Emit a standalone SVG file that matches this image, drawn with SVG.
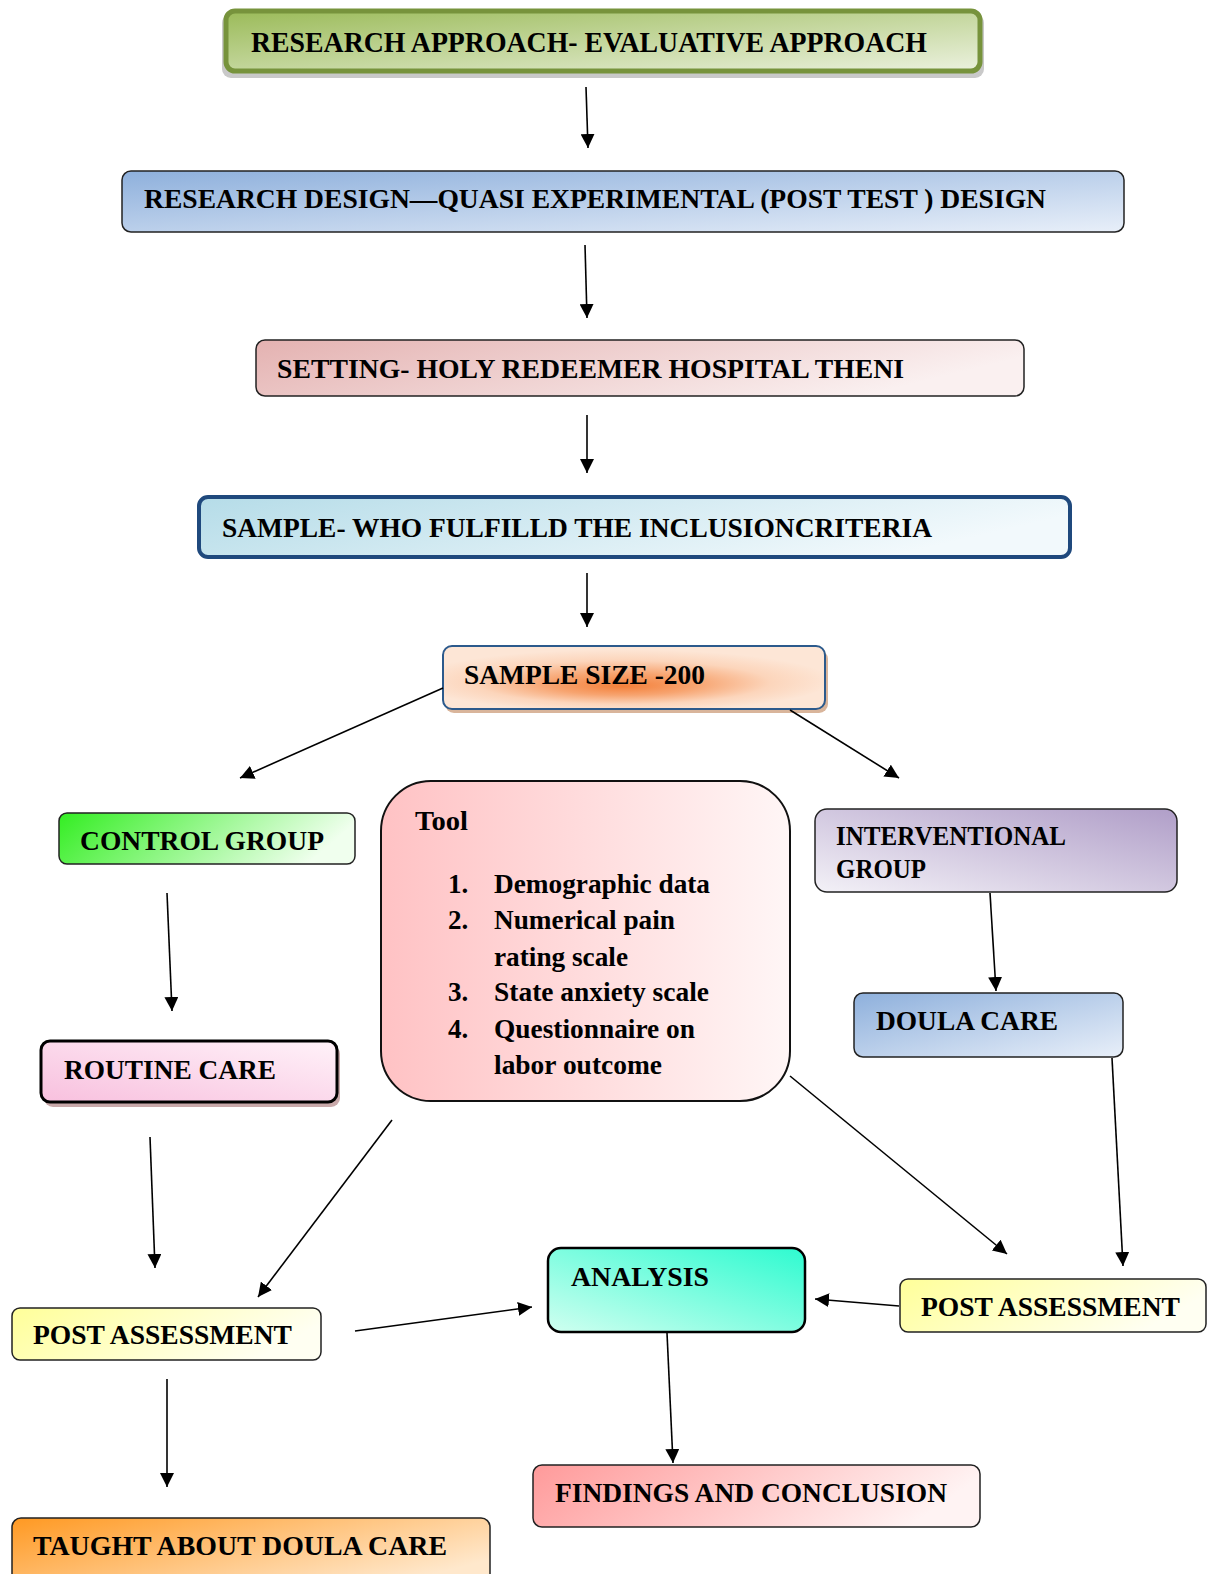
<svg xmlns="http://www.w3.org/2000/svg" width="1217" height="1574" viewBox="0 0 1217 1574">
<defs>
<linearGradient id="gGreen" x1="0" y1="0" x2="1" y2="1"><stop offset="0" stop-color="#9BBB59"/><stop offset="1" stop-color="#EBF1DE"/></linearGradient>
<linearGradient id="gBlue" x1="0" y1="0" x2="1" y2="1"><stop offset="0" stop-color="#8EB0DC"/><stop offset="1" stop-color="#E8EFF9"/></linearGradient>
<linearGradient id="gRose" x1="0" y1="0" x2="1" y2="0.3"><stop offset="0" stop-color="#E4B2B1"/><stop offset="1" stop-color="#FAF0F0"/></linearGradient>
<linearGradient id="gAqua" x1="0" y1="0" x2="1" y2="0.3"><stop offset="0" stop-color="#B5DCE8"/><stop offset="1" stop-color="#F2F9FC"/></linearGradient>
<radialGradient id="gOrange" cx="0.47" cy="0.55" r="0.55" fx="0.47" fy="0.65" gradientTransform="translate(0.47 0.55) scale(1 0.9) translate(-0.47 -0.55)"><stop offset="0" stop-color="#F4803A"/><stop offset="0.35" stop-color="#F7A470"/><stop offset="0.7" stop-color="#FCD5BB"/><stop offset="1" stop-color="#FDE6D6"/></radialGradient>
<linearGradient id="gLime" x1="0" y1="0" x2="1" y2="0.2"><stop offset="0" stop-color="#33EE22"/><stop offset="1" stop-color="#F0FFEE"/></linearGradient>
<linearGradient id="gPink" x1="0" y1="0" x2="1" y2="0"><stop offset="0" stop-color="#FFC2C4"/><stop offset="1" stop-color="#FFF6F6"/></linearGradient>
<linearGradient id="gLav" x1="1" y1="0" x2="0" y2="1"><stop offset="0" stop-color="#B09EC8"/><stop offset="1" stop-color="#F3F1F7"/></linearGradient>
<linearGradient id="gRoutine" x1="0" y1="1" x2="1" y2="0"><stop offset="0" stop-color="#F8C0DE"/><stop offset="1" stop-color="#FFF2F9"/></linearGradient>
<linearGradient id="gYellow" x1="0" y1="0" x2="1" y2="0.3"><stop offset="0" stop-color="#FFFF99"/><stop offset="1" stop-color="#FFFFF2"/></linearGradient>
<linearGradient id="gTeal" x1="1" y1="0" x2="0" y2="1"><stop offset="0" stop-color="#2EFBD0"/><stop offset="1" stop-color="#D0FFF0"/></linearGradient>
<linearGradient id="gSalmon" x1="0" y1="0" x2="1" y2="0.2"><stop offset="0" stop-color="#FF9A9A"/><stop offset="1" stop-color="#FFF3F3"/></linearGradient>
<linearGradient id="gTaught" x1="0" y1="0" x2="1" y2="0.6"><stop offset="0" stop-color="#FF9922"/><stop offset="1" stop-color="#FFE8CC"/></linearGradient>
<marker id="arr" viewBox="0 0 10 10" refX="10" refY="5" markerWidth="14" markerHeight="14" markerUnits="userSpaceOnUse" orient="auto"><path d="M0,0 L10,5 L0,10 z" fill="#000"/></marker>
</defs>
<style>
text{font-family:"Liberation Serif","Times New Roman",serif;font-weight:bold;font-size:27px;fill:#000}
.b{stroke:#222;stroke-width:1.5}
.c line{stroke:#000;stroke-width:1.6;marker-end:url(#arr)}
</style>
<rect width="1217" height="1574" fill="#fff"/>

<g id="n1">
<rect x="222" y="14" width="762" height="64" rx="9" fill="#C9C9C9"/>
<rect x="226" y="11" width="754" height="60" rx="9" fill="url(#gGreen)" stroke="#77933C" stroke-width="5"/>
<text x="251" y="52" style="font-size:30px" textLength="676" lengthAdjust="spacingAndGlyphs">RESEARCH APPROACH- EVALUATIVE APPROACH</text>
</g>
<g id="n2">
<rect x="122" y="171" width="1002" height="61" rx="9" fill="url(#gBlue)" class="b"/>
<text x="144" y="208" textLength="902" lengthAdjust="spacingAndGlyphs">RESEARCH DESIGN—QUASI EXPERIMENTAL (POST TEST ) DESIGN</text>
</g>
<g id="n3">
<rect x="256" y="340" width="768" height="56" rx="9" fill="url(#gRose)" class="b"/>
<text x="277" y="378" textLength="627" lengthAdjust="spacingAndGlyphs">SETTING- HOLY REDEEMER HOSPITAL THENI</text>
</g>
<g id="n4">
<rect x="199" y="497" width="871" height="60" rx="9" fill="url(#gAqua)" stroke="#1F497D" stroke-width="4"/>
<text x="222" y="537" textLength="710" lengthAdjust="spacingAndGlyphs">SAMPLE- WHO FULFILLD THE INCLUSIONCRITERIA</text>
</g>
<g id="n5">
<rect x="445" y="650" width="383" height="63" rx="9" fill="#D9B59B"/>
<rect x="443" y="646" width="382" height="63" rx="9" fill="url(#gOrange)" stroke="#2C5A8C" stroke-width="2"/>
<text x="464" y="684" textLength="241" lengthAdjust="spacingAndGlyphs">SAMPLE SIZE -200</text>
</g>
<g id="n6">
<rect x="59" y="813" width="296" height="51" rx="8" fill="url(#gLime)" class="b"/>
<text x="80" y="850" textLength="244" lengthAdjust="spacingAndGlyphs">CONTROL GROUP</text>
</g>
<g id="n7">
<rect x="381" y="781" width="409" height="320" rx="50" fill="url(#gPink)" stroke="#111" stroke-width="2"/>
<text x="415" y="830" textLength="53" lengthAdjust="spacingAndGlyphs">Tool</text>
<text x="448" y="893">1.</text><text x="494" y="893" textLength="216" lengthAdjust="spacingAndGlyphs">Demographic data</text>
<text x="448" y="929">2.</text><text x="494" y="929" textLength="181" lengthAdjust="spacingAndGlyphs">Numerical pain</text>
<text x="494" y="966" textLength="134" lengthAdjust="spacingAndGlyphs">rating scale</text>
<text x="448" y="1001">3.</text><text x="494" y="1001" textLength="215" lengthAdjust="spacingAndGlyphs">State anxiety scale</text>
<text x="448" y="1038">4.</text><text x="494" y="1038" textLength="201" lengthAdjust="spacingAndGlyphs">Questionnaire on</text>
<text x="494" y="1074" textLength="168" lengthAdjust="spacingAndGlyphs">labor outcome</text>
</g>
<g id="n8">
<rect x="815" y="809" width="362" height="83" rx="12" fill="url(#gLav)" class="b"/>
<text x="836" y="845" textLength="230" lengthAdjust="spacingAndGlyphs">INTERVENTIONAL</text>
<text x="836" y="878" textLength="90" lengthAdjust="spacingAndGlyphs">GROUP</text>
</g>
<g id="n9">
<rect x="854" y="993" width="269" height="64" rx="9" fill="url(#gBlue)" class="b"/>
<text x="876" y="1030" textLength="182" lengthAdjust="spacingAndGlyphs">DOULA CARE</text>
</g>
<g id="n10">
<rect x="44" y="1045" width="296" height="62" rx="9" fill="#C9A9AA"/>
<rect x="41" y="1041" width="296" height="61" rx="9" fill="url(#gRoutine)" stroke="#000" stroke-width="3"/>
<text x="64" y="1079" textLength="212" lengthAdjust="spacingAndGlyphs">ROUTINE CARE</text>
</g>
<g id="n11">
<rect x="12" y="1308" width="309" height="52" rx="8" fill="url(#gYellow)" class="b"/>
<text x="33" y="1344" textLength="259" lengthAdjust="spacingAndGlyphs">POST ASSESSMENT</text>
</g>
<g id="n12">
<rect x="548" y="1248" width="257" height="84" rx="13" fill="url(#gTeal)" stroke="#000" stroke-width="2.5"/>
<text x="571" y="1286" textLength="138" lengthAdjust="spacingAndGlyphs">ANALYSIS</text>
</g>
<g id="n13">
<rect x="900" y="1279" width="306" height="53" rx="8" fill="url(#gYellow)" class="b"/>
<text x="921" y="1316" textLength="259" lengthAdjust="spacingAndGlyphs">POST ASSESSMENT</text>
</g>
<g id="n14">
<rect x="533" y="1465" width="447" height="62" rx="9" fill="url(#gSalmon)" class="b"/>
<text x="555" y="1502" textLength="392" lengthAdjust="spacingAndGlyphs">FINDINGS AND CONCLUSION</text>
</g>
<g id="n15">
<rect x="12" y="1518" width="478" height="70" rx="9" fill="url(#gTaught)" class="b"/>
<text x="33" y="1555" textLength="414" lengthAdjust="spacingAndGlyphs">TAUGHT ABOUT DOULA CARE</text>
</g>

<g id="connectors" class="c">
<line x1="586" y1="87" x2="588" y2="148"/>
<line x1="585" y1="245" x2="587" y2="318"/>
<line x1="587" y1="415" x2="587" y2="473"/>
<line x1="587" y1="573" x2="587" y2="627"/>
<line x1="443" y1="688" x2="240" y2="778"/>
<line x1="790" y1="710" x2="899" y2="778"/>
<line x1="167" y1="893" x2="172" y2="1011"/>
<line x1="990" y1="893" x2="996" y2="991"/>
<line x1="150" y1="1137" x2="155" y2="1268"/>
<line x1="392" y1="1120" x2="258" y2="1297"/>
<line x1="790" y1="1076" x2="1007" y2="1254"/>
<line x1="1112" y1="1058" x2="1123" y2="1266"/>
<line x1="355" y1="1331" x2="532" y2="1307"/>
<line x1="899" y1="1306" x2="815" y2="1299"/>
<line x1="667" y1="1333" x2="673" y2="1463"/>
<line x1="167" y1="1379" x2="167" y2="1487"/>
</g>
</svg>
